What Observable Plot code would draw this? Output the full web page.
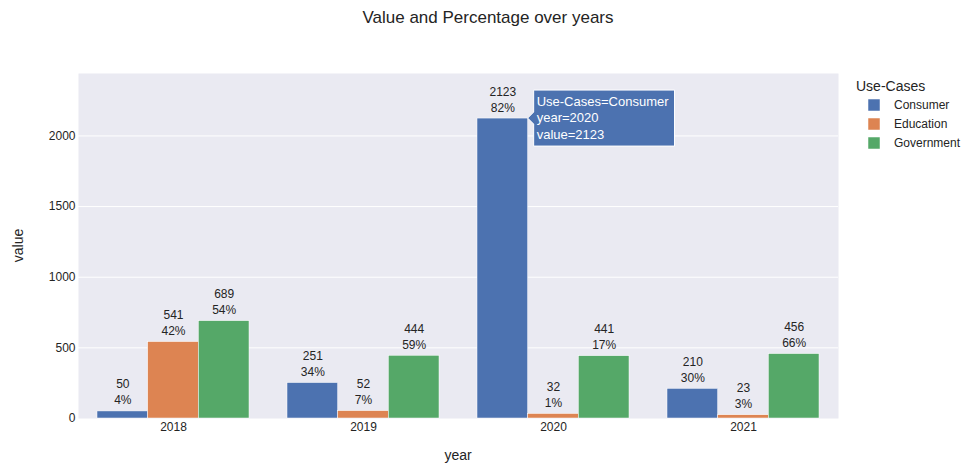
<!DOCTYPE html>
<html>
<head>
<meta charset="utf-8">
<script src="https://cdn.jsdelivr.net/npm/d3@7"></script>
<script src="https://cdn.jsdelivr.net/npm/@observablehq/plot@0.6"></script>
<style>
  html, body { margin: 0; padding: 0; background: white; }
  #chart { position: relative; width: 975px; height: 471px; }
</style>
</head>
<body>
<div id="chart"></div>
<script>
const years = ["2018", "2019", "2020", "2021"];
const useCases = ["Consumer", "Education", "Government"];
const consumer = [50, 251, 2123, 210];
const education = [541, 52, 32, 23];
const government = [689, 444, 441, 456];
const consumerPct = [4, 34, 82, 30];
const educationPct = [42, 7, 1, 3];
const governmentPct = [54, 59, 17, 66];
const colors = ["#4C72B0", "#DD8452", "#55A868"];
const yTicks = [0, 500, 1000, 1500, 2000];
const title = "Value and Percentage over years";
const hover = {useCase: "Consumer", year: "2020", value: 2123};

const seriesValues = [consumer, education, government];
const seriesPct = [consumerPct, educationPct, governmentPct];
const rows = useCases.map((u, i) => years.map((y, j) => ({
  useCase: u, year: y, value: seriesValues[i][j], pct: seriesPct[i][j]
})));

const FONT = "'Liberation Sans', Arial, sans-serif";
const TXT = "rgb(36,36,36)";
const W = 975, H = 471, mL = 78, mR = 137, mT = 73, mB = 53;
const bw = (W - mL - mR) / years.length;
const gap = bw * 0.1;
const sub = bw * 0.8 / 3;

const marks = [
  Plot.frame({fill: "#EAEAF2", stroke: null}),
  Plot.ruleY(yTicks.filter(d => d > 0), {stroke: "white", strokeWidth: 1})
];
rows.forEach((data, i) => {
  marks.push(Plot.barY(data, {
    x: "year", y: "value", fill: colors[i], stroke: "white", strokeWidth: 0.5,
    insetLeft: gap + i * sub, insetRight: gap + (2 - i) * sub
  }));
  marks.push(Plot.text(data, {
    x: "year", y: "value", text: d => `${d.value}\n${d.pct}%`,
    dx: (i - 1) * sub, dy: -7, lineAnchor: "bottom", lineHeight: 1.33,
    fill: TXT, fontSize: 12
  }));
});

const chart = Plot.plot({
  width: W, height: H,
  marginTop: mT, marginLeft: mL, marginRight: mR, marginBottom: mB,
  style: {fontFamily: FONT, fontSize: "12px", color: TXT, background: "white"},
  x: {domain: years, padding: 0, label: null, tickSize: 0, tickPadding: 4},
  y: {domain: [0, 2442], ticks: yTicks, tickSize: 0, tickPadding: 3, label: null, tickFormat: d => String(d)},
  marks
});
document.getElementById("chart").appendChild(chart);

const svg = d3.select(chart);
const xs = chart.scale("x"), ys = chart.scale("y");

// title
svg.append("text").attr("x", 488).attr("y", 23).attr("text-anchor", "middle")
  .attr("font-family", FONT).attr("font-size", 17).attr("fill", TXT).text(title);
// axis titles
svg.append("text").attr("x", mL + (W - mL - mR) / 2).attr("y", 460).attr("text-anchor", "middle")
  .attr("font-family", FONT).attr("font-size", 14).attr("fill", TXT).text("year");
svg.append("text").attr("transform", `translate(23,${mT + (H - mT - mB) / 2}) rotate(-90)`)
  .attr("text-anchor", "middle").attr("font-family", FONT).attr("font-size", 14).attr("fill", TXT).text("value");

// legend
const lg = svg.append("g").attr("font-family", FONT).attr("fill", TXT).attr("text-anchor", "start");
lg.append("text").attr("x", 856).attr("y", 91).attr("font-size", 14).text("Use-Cases");
useCases.forEach((u, i) => {
  const cy = 105 + i * 19;
  lg.append("rect").attr("x", 868).attr("y", cy - 6).attr("width", 12).attr("height", 12)
    .attr("fill", colors[i]).attr("stroke", "white").attr("stroke-width", 0.5);
  lg.append("text").attr("x", 894).attr("y", cy + 4).attr("font-size", 12).text(u);
});

// hover tooltip
const hi = useCases.indexOf(hover.useCase);
const px = xs.apply(hover.year) + gap + (hi + 1) * sub;
const py = ys.apply(hover.value);
const tg = svg.append("g").attr("transform", `translate(${px},${py})`).attr("text-anchor", "start");
const path = tg.append("path").attr("fill", colors[hi]).attr("stroke", "white").attr("stroke-width", 1);
const lines = [`Use-Cases=${hover.useCase}`, `year=${hover.year}`, `value=${hover.value}`];
const texts = lines.map((s, k) => tg.append("text").attr("x", 9).attr("y", -12.5 + k * 16.5)
  .attr("font-family", FONT).attr("font-size", 13).attr("fill", "white").text(s));
const tw = Math.max(...texts.map(t => t.node().getComputedTextLength()));
const bx = tw + 9;
path.attr("d", `M0,0L6,-6V-28H${6 + bx}V28H6V6Z`);
</script>
</body>
</html>
